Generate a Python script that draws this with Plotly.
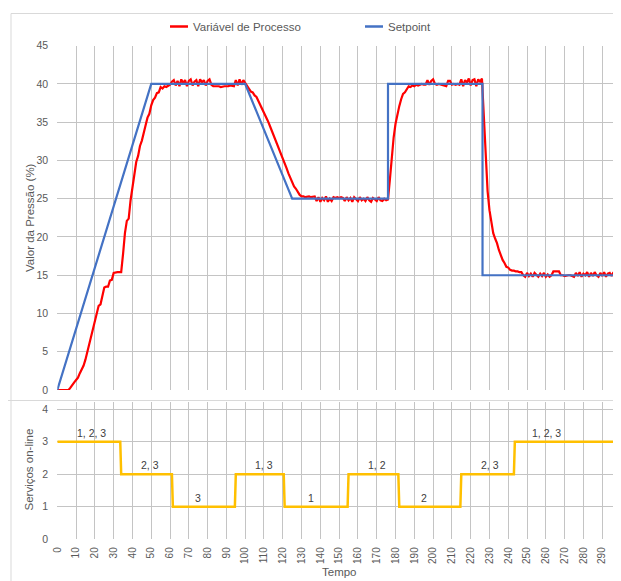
import plotly.graph_objects as go

# ---------------- data ----------------
# Process variable, one sample per time unit (t = 0 .. 299)
pv = [
    0, 0, 0, 0, 0, 0, 0, 0.3, 0.7, 1.0,
    1.3, 1.6, 2.2, 2.7, 3.2, 4.0, 5.0, 5.9, 6.9, 8.0,
    9.2, 10.3, 11.0, 11.2, 12.2, 13.4, 13.5, 13.5, 14.3, 14.4,
    15.3, 15.4, 15.4, 15.4, 15.4, 17.8, 20.5, 22.1, 22.4, 24.8,
    26.6, 28.2, 29.8, 30.6, 31.9, 32.6, 33.8, 34.6, 35.6, 36.1,
    37.2, 37.9, 38.2, 38.8, 38.9, 39.6, 39.4, 39.7, 39.6, 39.7,
    39.9, 40.3, 40.5, 39.8, 40.4, 39.7, 40.6, 40.1, 40.5, 39.7,
    40.4, 40.6, 39.8, 40.3, 40.5, 39.7, 40.6, 40.2, 40.5, 39.8,
    40.4, 40.6, 39.9, 39.7, 39.7, 39.7, 39.7, 39.6, 39.7, 39.7,
    39.7, 39.7, 39.8, 39.7, 39.7, 40.5, 39.8, 40.6, 39.9, 40.5,
    40.1, 39.8, 39.3, 39.0, 38.9, 38.5, 38.3, 37.8, 37.4, 36.8,
    36.4, 35.8, 35.2, 34.6, 34.0, 33.4, 32.8, 32.2, 31.5, 30.8,
    30.2, 29.6, 29.0, 28.3, 27.7, 27.2, 26.6, 26.3, 25.8, 25.5,
    25.3, 25.3, 25.2, 25.3, 25.3, 25.2, 25.3, 25.3, 24.7, 25.2,
    24.6, 25.1, 24.8, 25.3, 24.6, 25.0, 24.7, 25.2, 25.1, 25.2,
    25.1, 25.2, 25.1, 24.7, 25.2, 24.8, 25.1, 24.6, 25.2, 24.9,
    24.7, 25.2, 24.8, 25.0, 24.7, 25.2, 24.8, 24.6, 25.1, 24.9,
    24.7, 25.2, 24.8, 24.7, 25.0, 24.8, 24.9, 27.5, 30.5, 33.0,
    34.8, 36.2, 37.1, 38.0, 38.7, 38.9, 39.3, 39.7, 39.6, 39.8,
    39.7, 39.9, 39.8, 39.9, 40.0, 39.9, 39.9, 40.5, 39.9, 40.4,
    40.6, 40.0, 39.9, 40.0, 39.9, 39.9, 39.7, 39.7, 40.4, 40.4,
    39.9, 40.0, 39.9, 40.0, 39.9, 40.6, 39.7, 40.5, 40.2, 40.7,
    39.8, 40.5, 40.6, 39.7, 40.6, 40.3, 40.7, 36.0, 29.5, 26.0,
    23.5, 21.8, 20.5, 19.8, 19.2, 18.3, 17.6, 17.0, 16.6, 16.1,
    16.0, 15.7, 15.6, 15.6, 15.5, 15.5, 15.4, 15.4, 15.0, 14.8,
    15.3, 14.9, 15.2, 14.8, 15.3, 15.0, 14.8, 15.2, 14.9, 15.3,
    14.8, 15.1, 14.8, 15.0, 15.5, 15.5, 15.5, 15.5, 15.0, 15.0,
    14.9, 15.0, 15.0, 15.0, 14.9, 14.8, 15.3, 14.9, 15.4, 14.8,
    15.2, 15.0, 15.4, 14.8, 15.3, 14.9, 15.4, 15.0, 14.8, 15.3,
    14.9, 15.4, 14.8, 15.2, 15.3, 14.9, 15.4, 14.8, 15.3, 15.2,
]
pv_t = list(range(len(pv)))

# Setpoint breakpoints
sp_t = [0, 50, 100, 125, 176, 176, 226.3, 226.3, 299]
sp_v = [0, 40, 40, 25, 25, 40, 40, 15, 15]

# Services on-line (step profile)
srv_t = [0, 33.5, 34, 61, 61.5, 94.5, 95, 120.5, 121, 154.5, 155,
         181.5, 182, 214.5, 215, 243, 243.5, 299]
srv_v = [3, 3, 2, 2, 1, 1, 2, 2, 1, 1, 2, 2, 1, 1, 2, 2, 3, 3]

# Labels of which services are on-line
lbl_text = ["1, 2, 3", "2, 3", "3", "1, 3", "1", "1, 2", "2", "2, 3", "1, 2, 3"]
lbl_t = [18, 49.5, 75, 110, 135, 170, 195, 230.5, 260.5]
lbl_v = [3, 2, 1, 2, 1, 2, 1, 2, 3]

x_ticks = list(range(0, 300, 10))

# ---------------- layout helpers ----------------
# page body has an 8px margin, so the figure sits at (8, 8) in the window
OFF = 8
W, H = 621 - OFF, 581 - OFF
def px_x(p):
    return (p - OFF) / W
def px_y(p):
    return 1 - (p - OFF) / H

FONT = "Liberation Sans, Arial, sans-serif"
GRID = "#C4C4C4"
TXT = "#595959"

fig = go.Figure()

fig.add_trace(go.Scatter(x=pv_t, y=pv, mode="lines", name="Variável de Processo",
                         line=dict(color="#FF0000", width=2.2), xaxis="x", yaxis="y"))
fig.add_trace(go.Scatter(x=sp_t, y=sp_v, mode="lines", name="Setpoint",
                         line=dict(color="#4472C4", width=2.2), xaxis="x", yaxis="y"))
fig.add_trace(go.Scatter(x=srv_t, y=srv_v, mode="lines", name="Serviços",
                         line=dict(color="#FFC000", width=2.5), xaxis="x2", yaxis="y2"))

annotations = []
for t, v, s in zip(lbl_t, lbl_v, lbl_text):
    annotations.append(dict(x=t, y=v, xref="x2", yref="y2", text=s, showarrow=False,
                            yanchor="bottom", yshift=1,
                            font=dict(family=FONT, size=10.5, color="#404040")))

# manual legend
annotations.append(dict(x=px_x(191), y=px_y(26.5), xref="paper", yref="paper",
                        text="Variável de Processo", showarrow=False, xanchor="left",
                        yanchor="middle", font=dict(family=FONT, size=11.5, color=TXT)))
annotations.append(dict(x=px_x(386), y=px_y(26.5), xref="paper", yref="paper",
                        text="Setpoint", showarrow=False, xanchor="left",
                        yanchor="middle", font=dict(family=FONT, size=11.5, color=TXT)))
# axis titles
annotations.append(dict(x=px_x(30), y=px_y(218), xref="paper", yref="paper",
                        text="Valor da Pressão (%)", showarrow=False, textangle=-90,
                        xanchor="center", yanchor="middle",
                        font=dict(family=FONT, size=11.5, color=TXT)))
annotations.append(dict(x=px_x(28.5), y=px_y(470), xref="paper", yref="paper",
                        text="Serviços on-line", showarrow=False, textangle=-90,
                        xanchor="center", yanchor="middle",
                        font=dict(family=FONT, size=11.5, color=TXT)))
annotations.append(dict(x=px_x(339), y=px_y(572), xref="paper", yref="paper",
                        text="Tempo", showarrow=False,
                        xanchor="center", yanchor="middle",
                        font=dict(family=FONT, size=11.5, color=TXT)))

shapes = [
    dict(type="line", xref="paper", yref="paper", x0=px_x(170), x1=px_x(188),
         y0=px_y(26.5), y1=px_y(26.5), line=dict(color="#FF0000", width=2.5)),
    dict(type="line", xref="paper", yref="paper", x0=px_x(365), x1=px_x(383),
         y0=px_y(26.5), y1=px_y(26.5), line=dict(color="#4472C4", width=2.5)),
    # chart borders
    dict(type="rect", xref="paper", yref="paper", x0=px_x(11), x1=px_x(640),
         y0=px_y(600), y1=px_y(13.5), line=dict(color="#D9D9D9", width=1)),
    dict(type="line", xref="paper", yref="paper", x0=0, x1=1,
         y0=px_y(400.5), y1=px_y(400.5), line=dict(color="#D9D9D9", width=1)),
]

xdom = [px_x(57.3), 1.0]
fig.update_layout(
    width=W, height=H, template="none",
    margin=dict(l=0, r=0, t=0, b=0),
    paper_bgcolor="white", plot_bgcolor="white",
    showlegend=False,
    font=dict(family=FONT, color=TXT),
    xaxis=dict(domain=xdom, range=[0, 300], tickvals=x_ticks, showticklabels=False,
               showgrid=True, gridcolor=GRID, gridwidth=1, zeroline=False,
               showline=False, anchor="y", automargin=False),
    yaxis=dict(domain=[px_y(390), px_y(45.7)], range=[0, 45], dtick=5, tick0=0,
               showgrid=True, gridcolor=GRID, gridwidth=1, zeroline=False,
               ticks="outside", ticklen=6, tickcolor="rgba(0,0,0,0)",
               tickfont=dict(size=10.5, color=TXT), anchor="x", automargin=False),
    xaxis2=dict(domain=xdom, range=[0, 300], tickvals=x_ticks, tickangle=-90,
                showgrid=True, gridcolor=GRID, gridwidth=1, zeroline=False,
                showline=False, anchor="y2", ticks="outside", ticklen=3,
                tickcolor="rgba(0,0,0,0)", tickfont=dict(size=10, color=TXT),
                automargin=False),
    yaxis2=dict(domain=[px_y(539.3), px_y(402)], range=[0, 4.22], tickvals=[0, 1, 2, 3, 4],
                showgrid=True, gridcolor=GRID, gridwidth=1, zeroline=False,
                ticks="outside", ticklen=6, tickcolor="rgba(0,0,0,0)",
                tickfont=dict(size=10.5, color=TXT), anchor="x2", automargin=False),
    annotations=annotations,
    shapes=shapes,
)

fig.write_html("out.html")
